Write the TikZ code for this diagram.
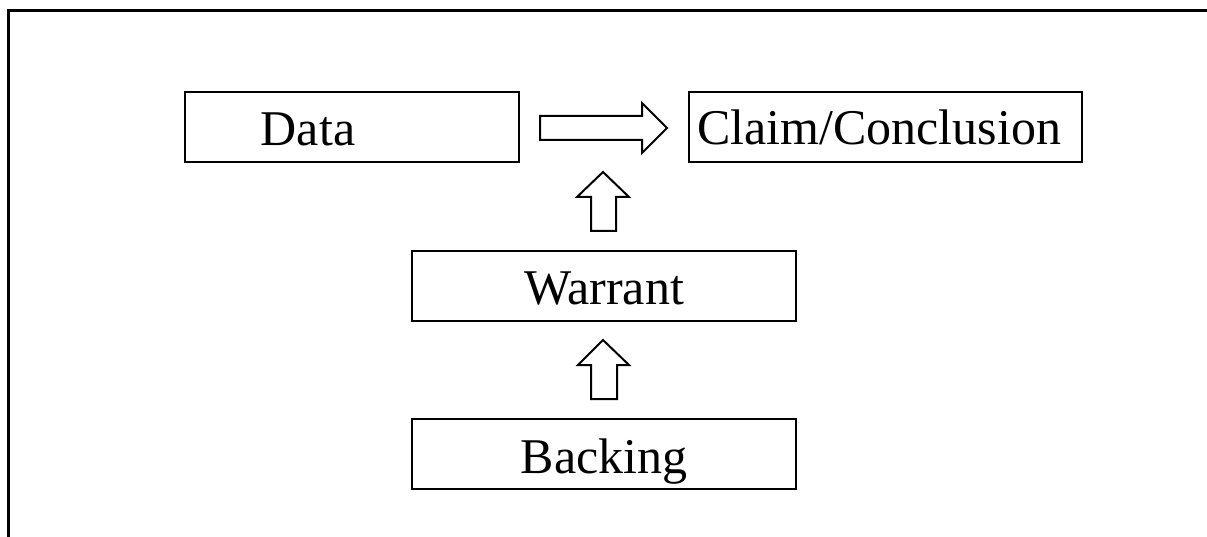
\documentclass[tikz,border=0pt]{standalone}
\usepackage{fontspec}
\setmainfont{Liberation Serif}
\begin{document}
\begin{tikzpicture}[x=1pt,y=-1pt,
  boxstyle/.style={draw=black,line width=2pt,fill=white},
  arrowshape/.style={draw=black,line width=2pt,line join=miter,fill=white},
  labeltext/.style={font=\fontsize{50}{60}\selectfont,inner sep=0pt,anchor=base},
  framestyle/.style={draw=black,line width=3pt}]
\useasboundingbox (0,0) rectangle (1207,537);
% outer frame (top and left only)
\coordinate (ftl) at (8,11);
\coordinate (ftr) at (1207,11);
\coordinate (fbl) at (8,537);
\draw[framestyle] (fbl) -- (ftl) -- (ftr);
% boxes
\draw[boxstyle] (185,92) rectangle (519,162);
\draw[boxstyle] (689,92) rectangle (1082,162);
\draw[boxstyle] (412,251) rectangle (796,321);
\draw[boxstyle] (412,419) rectangle (796,489);
% texts
\node[labeltext] (data) at (308,146) {Data};
\node[labeltext,anchor=base west] (claim) at (697,145) {Claim/Conclusion};
\node[labeltext] (warrant) at (604,305) {Warrant};
\node[labeltext] (backing) at (604,473) {Backing};
% right block arrow
\draw[arrowshape] (540,116) -- (642,116) -- (642,103) -- (667,128) -- (642,153) -- (642,140) -- (540,140) -- cycle;
% up block arrows
\draw[arrowshape] (591,231) -- (591,197) -- (577,197) -- (603,172) -- (629,197) -- (616,197) -- (616,231) -- cycle;
\draw[arrowshape] (591,399) -- (591,365) -- (578,365) -- (603,340) -- (629,365) -- (617,365) -- (617,399) -- cycle;
\end{tikzpicture}
\end{document}
